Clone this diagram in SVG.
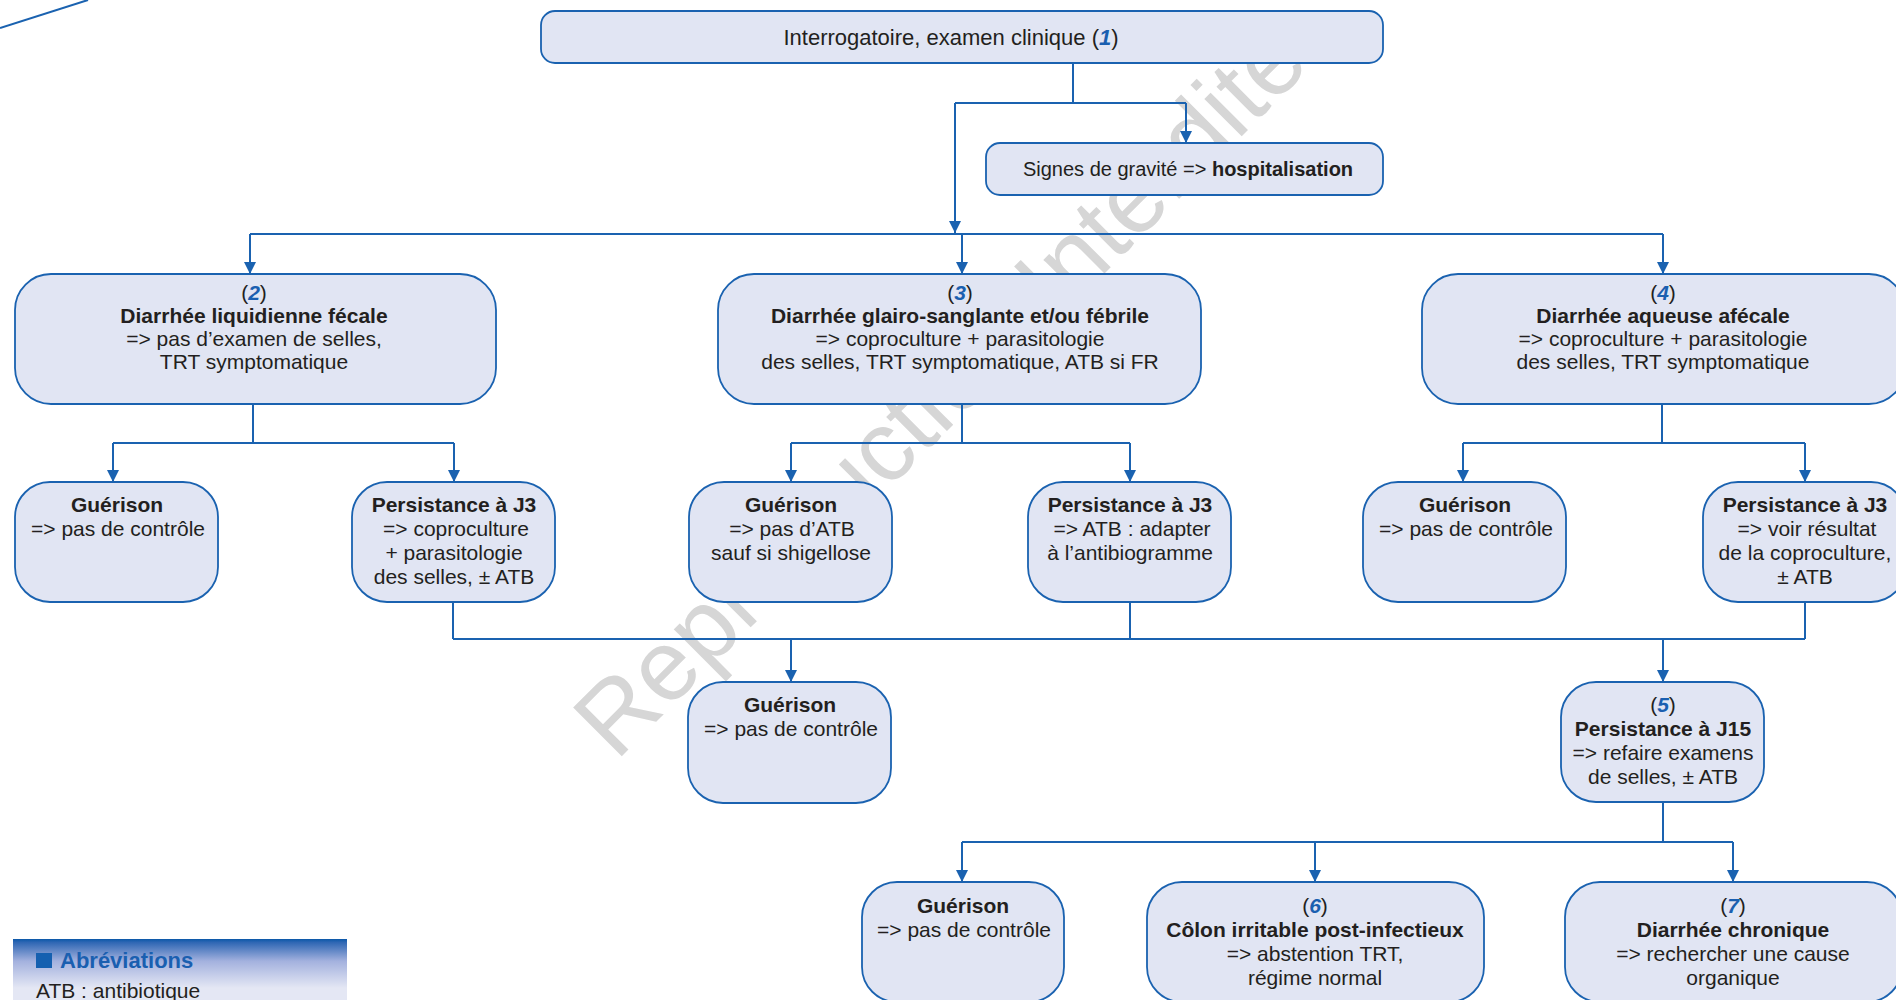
<svg xmlns="http://www.w3.org/2000/svg" width="1896" height="1000" viewBox="0 0 1896 1000">
<style>
.box{fill:#e1e5f3;stroke:#1a62b0;stroke-width:1.8}
.ln{fill:none;stroke:#1a62b0;stroke-width:2}
.ar{fill:none;stroke:#1a62b0;stroke-width:2;marker-end:url(#ah)}
text{font-family:"Liberation Sans",Arial,sans-serif;font-size:21px;fill:#231f20;text-anchor:middle}
.b{font-weight:bold}
.n{font-weight:bold;font-style:italic;fill:#1a5fb0}
.wm{font-size:100px;fill:#d6d6d6;text-anchor:start}
</style>
<defs>
<marker id="ah" markerUnits="userSpaceOnUse" markerWidth="14" markerHeight="14" refX="12" refY="6" orient="auto">
<path d="M0,0 L12,6 L0,12 z" fill="#1a62b0"/>
</marker>
<linearGradient id="pg" gradientUnits="userSpaceOnUse" x1="0" y1="939" x2="0" y2="988">
<stop offset="0" stop-color="#0b58a8"/>
<stop offset="0.07" stop-color="#2f67b4"/>
<stop offset="0.45" stop-color="#a3b1de"/>
<stop offset="1" stop-color="#e4e7f4"/>
</linearGradient>
</defs>
<rect width="1896" height="1000" fill="#ffffff"/>
<text class="wm" transform="translate(616,762) rotate(-45)">Reproduction Interdite</text>
<line x1="0" y1="28" x2="88" y2="0" class="ln"/>
<g id="connectors">
<path class="ln" d="M1073,63 V103 M955,103 H1186"/>
<path class="ar" d="M1186,103 V143"/>
<path class="ar" d="M955,103 V233"/>
<path class="ln" d="M250,234 H1663"/>
<path class="ar" d="M250,234 V274"/>
<path class="ar" d="M962,234 V274"/>
<path class="ar" d="M1663,234 V274"/>
<path class="ln" d="M253,404 V443 M113,443 H454"/>
<path class="ar" d="M113,443 V482"/>
<path class="ar" d="M454,443 V482"/>
<path class="ln" d="M962,404 V443 M791,443 H1130"/>
<path class="ar" d="M791,443 V482"/>
<path class="ar" d="M1130,443 V482"/>
<path class="ln" d="M1662,404 V443 M1463,443 H1805"/>
<path class="ar" d="M1463,443 V482"/>
<path class="ar" d="M1805,443 V482"/>
<path class="ln" d="M453,602 V639 M1130,602 V639 M1805,602 V639 M453,639 H1805"/>
<path class="ar" d="M791,639 V682"/>
<path class="ar" d="M1663,639 V682"/>
<path class="ln" d="M1663,802 V842 M962,842 H1733"/>
<path class="ar" d="M962,842 V882"/>
<path class="ar" d="M1315,842 V882"/>
<path class="ar" d="M1733,842 V882"/>
</g>
<g id="n1">
<rect class="box" x="541" y="11" width="842" height="52" rx="14"/>
<text x="951" y="45" style="font-size:22px">Interrogatoire, examen clinique (<tspan class="n">1</tspan>)</text>
</g>
<g id="n-grav">
<rect class="box" x="986" y="143" width="397" height="52" rx="14"/>
<text x="1188" y="176" style="font-size:20px">Signes de gravité =&gt; <tspan class="b">hospitalisation</tspan></text>
</g>
<g id="n2">
<rect class="box" x="15" y="274" width="481" height="130" rx="36"/>
<text x="254" y="300">(<tspan class="n">2</tspan>)</text>
<text x="254" y="323" class="b">Diarrhée liquidienne fécale</text>
<text x="254" y="346">=&gt; pas d’examen de selles,</text>
<text x="254" y="369">TRT symptomatique</text>
</g>
<g id="n3">
<rect class="box" x="718" y="274" width="483" height="130" rx="36"/>
<text x="960" y="300">(<tspan class="n">3</tspan>)</text>
<text x="960" y="323" class="b">Diarrhée glairo-sanglante et/ou fébrile</text>
<text x="960" y="346">=&gt; coproculture + parasitologie</text>
<text x="960" y="369">des selles, TRT symptomatique, ATB si FR</text>
</g>
<g id="n4">
<rect class="box" x="1422" y="274" width="483" height="130" rx="36"/>
<text x="1663" y="300">(<tspan class="n">4</tspan>)</text>
<text x="1663" y="323" class="b">Diarrhée aqueuse afécale</text>
<text x="1663" y="346">=&gt; coproculture + parasitologie</text>
<text x="1663" y="369">des selles, TRT symptomatique</text>
</g>
<g id="n2a">
<rect class="box" x="15" y="482" width="203" height="120" rx="35"/>
<text x="117" y="512" class="b">Guérison</text>
<text x="118" y="536">=&gt; pas de contrôle</text>
</g>
<g id="n2b">
<rect class="box" x="352" y="482" width="203" height="120" rx="35"/>
<text x="454" y="512" class="b">Persistance à J3</text>
<text x="456" y="536">=&gt; coproculture</text>
<text x="454" y="560">+ parasitologie</text>
<text x="454" y="584">des selles, ± ATB</text>
</g>
<g id="n3a">
<rect class="box" x="689" y="482" width="203" height="120" rx="35"/>
<text x="791" y="512" class="b">Guérison</text>
<text x="792" y="536">=&gt; pas d’ATB</text>
<text x="791" y="560">sauf si shigellose</text>
</g>
<g id="n3b">
<rect class="box" x="1028" y="482" width="203" height="120" rx="35"/>
<text x="1130" y="512" class="b">Persistance à J3</text>
<text x="1132" y="536">=&gt; ATB : adapter</text>
<text x="1130" y="560">à l’antibiogramme</text>
</g>
<g id="n4a">
<rect class="box" x="1363" y="482" width="203" height="120" rx="35"/>
<text x="1465" y="512" class="b">Guérison</text>
<text x="1466" y="536">=&gt; pas de contrôle</text>
</g>
<g id="n4b">
<rect class="box" x="1703" y="482" width="203" height="120" rx="35"/>
<text x="1805" y="512" class="b">Persistance à J3</text>
<text x="1807" y="536">=&gt; voir résultat</text>
<text x="1805" y="560">de la coproculture,</text>
<text x="1805" y="584">± ATB</text>
</g>
<g id="n-g3">
<rect class="box" x="688" y="682" width="203" height="121" rx="35"/>
<text x="790" y="712" class="b">Guérison</text>
<text x="791" y="736">=&gt; pas de contrôle</text>
</g>
<g id="n5">
<rect class="box" x="1561" y="682" width="203" height="120" rx="35"/>
<text x="1663" y="712">(<tspan class="n">5</tspan>)</text>
<text x="1663" y="736" class="b">Persistance à J15</text>
<text x="1663" y="760">=&gt; refaire examens</text>
<text x="1663" y="784">de selles, ± ATB</text>
</g>
<g id="n-g4">
<rect class="box" x="862" y="882" width="202" height="120" rx="35"/>
<text x="963" y="913" class="b">Guérison</text>
<text x="964" y="937">=&gt; pas de contrôle</text>
</g>
<g id="n6">
<rect class="box" x="1147" y="882" width="337" height="120" rx="35"/>
<text x="1315" y="913">(<tspan class="n">6</tspan>)</text>
<text x="1315" y="937" class="b">Côlon irritable post-infectieux</text>
<text x="1315" y="961">=&gt; abstention TRT,</text>
<text x="1315" y="985">régime normal</text>
</g>
<g id="n7">
<rect class="box" x="1565" y="882" width="337" height="120" rx="35"/>
<text x="1733" y="913">(<tspan class="n">7</tspan>)</text>
<text x="1733" y="937" class="b">Diarrhée chronique</text>
<text x="1733" y="961">=&gt; rechercher une cause</text>
<text x="1733" y="985">organique</text>
</g>
<g id="abbrev">
<rect x="13" y="939" width="334" height="70" fill="url(#pg)"/>
<rect x="36" y="953" width="16" height="15" fill="#1560b0"/>
<text x="60" y="968" style="font-size:22px;font-weight:bold;fill:#1a5fb0;text-anchor:start">Abréviations</text>
<text x="36" y="998" style="text-anchor:start">ATB : antibiotique</text>
</g>
</svg>
